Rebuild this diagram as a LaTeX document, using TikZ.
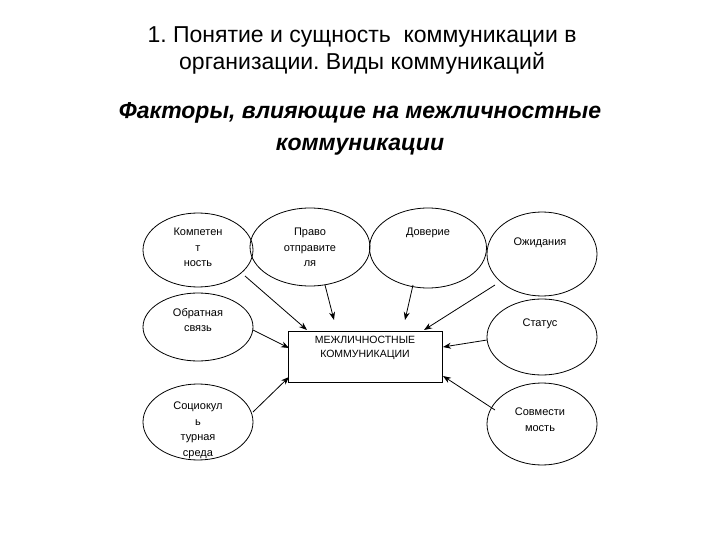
\documentclass[tikz,border=0pt]{standalone}
\usepackage{fontspec}
\setmainfont{Liberation Sans}
\frenchspacing
\usetikzlibrary{shapes.geometric,arrows.meta}
\begin{document}
\begin{tikzpicture}[x=1pt,y=-1pt,
  el/.style={ellipse,draw,thick,inner sep=0pt},
  tx/.style={anchor=north,font=\fontsize{11}{15.5}\selectfont,align=center,inner sep=0pt},
  arr/.style={-{Stealth[length=8pt,width=6pt]},thick}]
\useasboundingbox (0,0) rectangle (720,540);
\node[font=\fontsize{23}{27}\selectfont,align=center] (t) at (362,50) {1. Понятие и сущность\ \ коммуникации в\\организации. Виды коммуникаций};
\node[font=\fontsize{23}{32}\selectfont\bfseries\itshape,align=center] (s) at (360,129) {Факторы, влияющие на межличностные\\коммуникации};
\node[el,minimum width=110,minimum height=74] (a) at (198,250) {};
\node[tx] (at) at (198,228) {Компетен\\т\\ность};
\node[el,minimum width=120,minimum height=78] (b) at (310,247) {};
\node[tx] (bt) at (310,228) {Право\\отправите\\ля};
\node[el,minimum width=117,minimum height=80] (c) at (428,248) {};
\node[tx] (ct) at (428,228) {Доверие};
\node[el,minimum width=110,minimum height=84] (d) at (542,254) {};
\node[tx] (dt) at (540,238) {Ожидания};
\node[el,minimum width=110,minimum height=68] (e) at (198,327) {};
\node[tx] (et) at (198,308) {Обратная\\связь};
\node[el,minimum width=110,minimum height=76] (f) at (542,337) {};
\node[tx] (ft) at (540,319) {Статус};
\node[el,minimum width=110,minimum height=76] (g) at (198,422) {};
\node[tx] (gt) at (198,402) {Социокул\\ь\\турная\\среда};
\node[el,minimum width=110,minimum height=82] (h) at (542,424) {};
\node[tx] (ht) at (540,408) {Совмести\\мость};
\node[draw,thick,minimum width=154,minimum height=51,inner sep=0pt] (r) at (365,357) {};
\node[tx,font=\fontsize{10.5}{14}\selectfont] (rt) at (365,336) {МЕЖЛИЧНОСТНЫЕ\\КОММУНИКАЦИИ};
\coordinate (a1) at (245,276); \coordinate (a2) at (307,330);
\coordinate (b1) at (325,285); \coordinate (b2) at (334,320);
\coordinate (c1) at (413,285); \coordinate (c2) at (405,320);
\coordinate (d1) at (495,285); \coordinate (d2) at (424,330);
\coordinate (e1) at (253,330); \coordinate (e2) at (289,348);
\coordinate (f1) at (487,340); \coordinate (f2) at (443,347);
\coordinate (g1) at (253,412); \coordinate (g2) at (289,377);
\coordinate (h1) at (495,410); \coordinate (h2) at (443,376);
\foreach \p in {a,b,c,d,e,f,g,h} \draw[arr] (\p1) -- (\p2);
\end{tikzpicture}
\end{document}
